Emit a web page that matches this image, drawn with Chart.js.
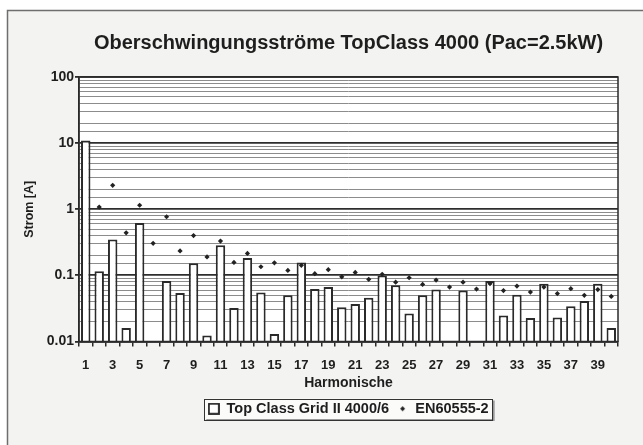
<!DOCTYPE html>
<html>
<head>
<meta charset="utf-8">
<script src="https://cdn.jsdelivr.net/npm/chart.js@4.4.1/dist/chart.umd.min.js"></script>
<style>
  html, body { margin: 0; padding: 0; background: #fff; }
</style>
</head>
<body>
<canvas id="harmonicChart" width="643" height="445"></canvas>
<script>
// Data
const harmonics = ['1', '2', '3', '4', '5', '6', '7', '8', '9', '10',
  '11', '12', '13', '14', '15', '16', '17', '18', '19', '20',
  '21', '22', '23', '24', '25', '26', '27', '28', '29', '30',
  '31', '32', '33', '34', '35', '36', '37', '38', '39', '40'];

// Top Class Grid II 4000/6 measured currents [A]
const gridCurrents = [11, 0.115, 0.35, 0.016, 0.62, null, 0.082, 0.054, 0.152, 0.0123,
  0.285, 0.032, 0.183, 0.055, 0.013, 0.05, 0.157, 0.062, 0.0665, 0.033,
  0.037, 0.046, 0.1, 0.071, 0.0265, 0.05, 0.061, null, 0.059, null,
  0.082, 0.0248, 0.051, 0.0226, 0.075, 0.023, 0.034, 0.041, 0.075, 0.016];

// EN60555-2 limits [A]
const limitCurrents = [null, 1.08, 2.3, 0.44, 1.15, 0.305, 0.77, 0.234, 0.40, 0.19,
  0.33, 0.157, 0.215, 0.135, 0.155, 0.119, 0.142, 0.106, 0.122, 0.095,
  0.111, 0.087, 0.104, 0.079, 0.092, 0.073, 0.085, 0.0665, 0.079, 0.062,
  0.075, 0.059, 0.069, 0.056, 0.0665, 0.053, 0.063, 0.05, 0.061, 0.048];

const decadeLabels = ['0.01', '0.1', '1', '10', '100'];

const inkColor = '#1e1e1e';
const fontFamily = "'Liberation Sans', Arial, sans-serif";

function isDecade(v) {
    const l = Math.log10(v);
    return Math.abs(l - Math.round(l)) < 1e-6;
}

// small icons for the legend
function makeSquareIcon() {
    const c = document.createElement('canvas');
    c.width = 12; c.height = 12;
    const g = c.getContext('2d');
    g.fillStyle = '#fff';
    g.fillRect(1, 1, 10, 10);
    g.strokeStyle = '#222';
    g.lineWidth = 1.8;
    g.strokeRect(1, 1, 10, 10);
    return c;
}
function makeDiamondIcon() {
    const c = document.createElement('canvas');
    c.width = 7; c.height = 7;
    const g = c.getContext('2d');
    g.fillStyle = '#222';
    g.beginPath();
    g.moveTo(3.5, 1); g.lineTo(6, 3.5); g.lineTo(3.5, 6); g.lineTo(1, 3.5);
    g.closePath();
    g.fill();
    return c;
}
const legendIcons = [makeSquareIcon(), makeDiamondIcon()];

// page background, framed plot area and boxed legend
const scanFrame = {
    id: 'scanFrame',
    beforeDraw(chart) {
        const { ctx, width, height, chartArea } = chart;
        ctx.save();
        ctx.fillStyle = '#ffffff';
        ctx.fillRect(0, 0, width, height);
        ctx.fillStyle = '#f3f3f1';
        ctx.fillRect(7, 10, width - 7, height - 10);
        ctx.strokeStyle = '#6e6e6e';
        ctx.lineWidth = 1.5;
        ctx.beginPath();
        ctx.moveTo(7.5, height);
        ctx.lineTo(7.5, 10.5);
        ctx.lineTo(width, 10.5);
        ctx.stroke();

        ctx.fillStyle = '#ffffff';
        ctx.fillRect(chartArea.left, chartArea.top, chartArea.right - chartArea.left, chartArea.bottom - chartArea.top);

        const boxes = chart.legend.legendHitBoxes;
        if (boxes && boxes.length) {
            const l = Math.min(...boxes.map(b => b.left)) - 4;
            const r = Math.max(...boxes.map(b => b.left + b.width)) + 4;
            const t = boxes[0].top - 3;
            const b = boxes[0].top + boxes[0].height + 3;
            ctx.fillStyle = '#9a9a9a';
            ctx.fillRect(l + 2, t + 2, r - l, b - t);
            ctx.fillStyle = '#fbfbfa';
            ctx.fillRect(l, t, r - l, b - t);
            ctx.strokeStyle = '#333';
            ctx.lineWidth = 1;
            ctx.strokeRect(Math.round(l) + 0.5, Math.round(t) + 0.5, Math.round(r - l), Math.round(b - t));
        }
        ctx.restore();
    },
    afterDatasetsDraw(chart) {
        const { ctx, chartArea } = chart;
        ctx.save();
        ctx.strokeStyle = '#2a2a2a';
        ctx.lineWidth = 1.5;
        ctx.strokeRect(chartArea.left, chartArea.top, chartArea.right - chartArea.left, chartArea.bottom - chartArea.top);
        ctx.restore();
    }
};

function createHarmonicChart() {
    const ctx = document.getElementById('harmonicChart').getContext('2d');
    new Chart(ctx, {
        data: {
            labels: harmonics,
            datasets: [
                {
                    type: 'bar',
                    label: 'Top Class Grid II 4000/6',
                    data: gridCurrents,
                    backgroundColor: '#ffffff',
                    borderColor: '#2a2a2a',
                    borderWidth: 2,
                    barPercentage: 0.7,
                    categoryPercentage: 1.0,
                    order: 1
                },
                {
                    type: 'line',
                    label: 'EN60555-2',
                    data: limitCurrents,
                    showLine: false,
                    pointStyle: 'rectRot',
                    pointRadius: 2.6,
                    pointBackgroundColor: '#222',
                    pointBorderColor: '#222',
                    pointBorderWidth: 0,
                    order: 0
                }
            ]
        },
        options: {
            responsive: false,
            animation: false,
            layout: { padding: { top: 0, left: 0, right: 25, bottom: 19 } },
            plugins: {
                title: {
                    display: true,
                    text: 'Oberschwingungsströme TopClass 4000 (Pac=2.5kW)',
                    color: inkColor,
                    fullSize: false,
                    font: { family: fontFamily, size: 20, weight: 'bold' },
                    padding: { top: 31, bottom: 22 }
                },
                legend: {
                    position: 'bottom',
                    fullSize: false,
                    labels: {
                        usePointStyle: true,
                        boxWidth: 11,
                        padding: 8,
                        color: inkColor,
                        font: { family: fontFamily, size: 14.5, weight: 'bold' },
                        sort: (a, b) => a.datasetIndex - b.datasetIndex,
                        generateLabels(chart) {
                            const items = Chart.defaults.plugins.legend.labels.generateLabels(chart);
                            items.forEach(it => { it.pointStyle = legendIcons[it.datasetIndex]; });
                            return items;
                        }
                    }
                },
                tooltip: { enabled: false }
            },
            scales: {
                x: {
                    type: 'category',
                    offset: true,
                    afterFit(scale) { scale.height = 52; },
                    grid: {
                        offset: true,
                        drawOnChartArea: false,
                        tickLength: 5,
                        tickColor: '#2a2a2a',
                        lineWidth: 1.5
                    },
                    border: { color: '#2a2a2a', width: 1.5 },
                    ticks: {
                        autoSkip: false,
                        maxRotation: 0,
                        padding: 11,
                        color: inkColor,
                        font: { family: fontFamily, size: 13, weight: 'bold' },
                        callback: (val, i) => (i % 2 === 0 ? harmonics[i] : '')
                    },
                    title: {
                        display: true,
                        text: 'Harmonische',
                        color: inkColor,
                        font: { family: fontFamily, size: 14, weight: 'bold' },
                        padding: { top: 2, bottom: 2 }
                    }
                },
                y: {
                    type: 'logarithmic',
                    min: 0.01,
                    max: 100,
                    afterFit(scale) { scale.width = 79; },
                    grid: {
                        color: c => (isDecade(c.tick.value) ? '#2e2e2e' : '#8c8c8c'),
                        lineWidth: c => (isDecade(c.tick.value) ? 1.8 : 1),
                        tickColor: c => (isDecade(c.tick.value) ? '#2a2a2a' : 'rgba(0,0,0,0)'),
                        tickLength: 4
                    },
                    border: { color: '#2a2a2a', width: 1.5 },
                    ticks: {
                        autoSkip: false,
                        padding: 1,
                        color: inkColor,
                        font: { family: fontFamily, size: 14, weight: 'bold' },
                        callback: v => {
                            if (!isDecade(v)) return '';
                            return decadeLabels[Math.round(Math.log10(v)) + 2];
                        }
                    },
                    title: {
                        display: true,
                        text: 'Strom [A]',
                        color: inkColor,
                        font: { family: fontFamily, size: 12.5, weight: 'bold' },
                        padding: { top: 22, bottom: 0 }
                    }
                }
            }
        },
        plugins: [scanFrame]
    });
}

window.addEventListener('load', createHarmonicChart);
</script>
</body>
</html>
